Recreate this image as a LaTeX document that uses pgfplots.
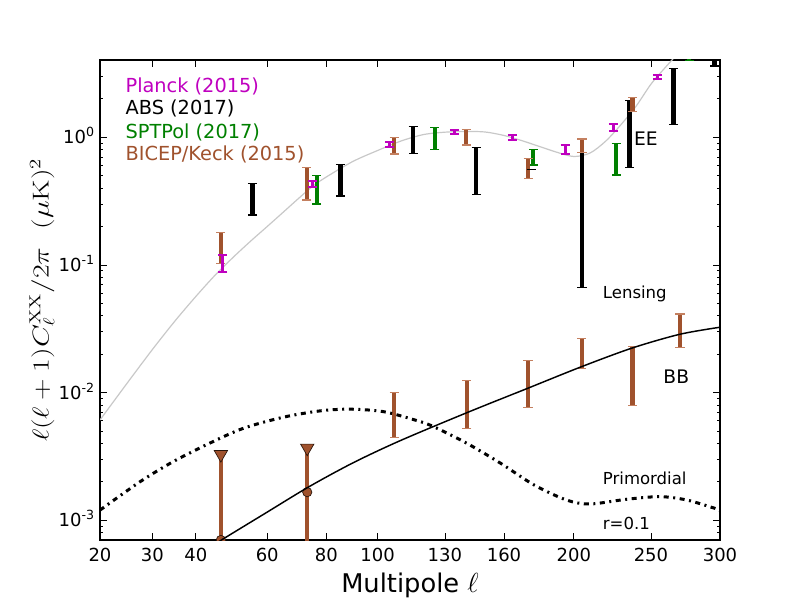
\documentclass[border=0pt]{standalone}
\usepackage[no-math]{fontspec}
\setmainfont{DejaVu Sans}
\usepackage{graphicx}
\usepackage{pgfplots}
\usepackage{pgfplotstable}
\pgfplotsset{compat=1.18}
\definecolor{mplm}{rgb}{0.75,0,0.75}
\definecolor{mplg}{rgb}{0,0.5,0}
\definecolor{sienna}{RGB}{160,82,45}
\definecolor{siennacap}{RGB}{196,128,96}
\definecolor{theorygrey}{RGB}{200,200,200}

% EE theory
\pgfplotstableread{
l v
20 0.0061
25 0.01201
30 0.02177
35 0.0364
40 0.05662
45 0.08343
50 0.1155
55 0.1541
60 0.2001
65 0.2576
70 0.3286
75 0.4118
80 0.4887
90 0.6461
100 0.788
110 0.9355
120 1.05
130 1.096
140 1.11
150 1.10
160 1.033
170 0.939
180 0.844
190 0.762
200 0.707
210 0.753
220 0.935
230 1.264
240 1.762
250 2.61
260 3.53
270 4.67
280 6.1
}\eetheory

% BB primordial r=0.1
\pgfplotstableread{
l v
20 0.00120
27.5 0.00201
34.6 0.00288
43.5 0.00401
52.9 0.00526
65.1 0.00641
77.8 0.00719
88.9 0.00741
102.4 0.00709
117 0.00603
124.6 0.00541
140.7 0.00401
158.1 0.00280
176.6 0.00189
195.6 0.00144
209.9 0.00134
233.6 0.00146
256.3 0.00153
275.3 0.00144
296 0.00124
300 0.00119
}\primordial

% BB lensing
\pgfplotstableread{
l v
45 0.00065
47 0.00071
59.4 0.001134
73.7 0.001824
90 0.00281
109.5 0.004195
140.7 0.00695
173.1 0.01081
204.8 0.01597
237.4 0.02237
270.4 0.02864
300 0.03249
}\lensing

% Planck EE (centre, half-width)
\pgfplotstableread{
l c e
47 0.10365 0.01605
75 0.43235 0.02235
105 0.879 0.035
134.6 1.095 0.039
164.6 0.9975 0.0505
194.7 0.807 0.063
224.8 1.192 0.072
254.4 2.961 0.115
}\planck

% ABS EE
\pgfplotstableread{
l c e
55.5 0.341 0.095
85.2 0.4805 0.1335
115.3 0.984 0.235
145.4 0.5965 0.2385
205 0.5184 0.4516
235.5 1.2585 0.6765
265.8 2.367 1.103
295.9 4.81 1.19
}\abs

\pgfplotstableread{
l c e
175 0.562 0.0005
}\abstiny

% SPTPol EE
\pgfplotstableread{
l c e
76.5 0.40 0.10
125.2 1.0015 0.1965
176.3 0.706 0.099
226.6 0.702 0.195
277.2 5.0 1.0
}\sptpol

% BICEP/Keck EE
\pgfplotstableread{
l c e
46.5 0.141 0.038
73 0.4525 0.1295
107 0.87 0.13
140.4 1.0085 0.1385
173.3 0.581 0.104
205 0.864 0.106
237.4 1.8135 0.2265
}\bkee

% BICEP/Keck BB
\pgfplotstableread{
l c e
107 0.007215 0.002775
140.7 0.00883 0.00357
173.2 0.01274 0.00506
204.8 0.021 0.0055
237.4 0.01543 0.00747
270.4 0.032 0.0093
}\bkbb

% BICEP/Keck BB upper-limit bars
\pgfplotstableread{
l c e
46.5 0.00169 0.00159
73.2 0.00189 0.00179
}\bkul

\pgfplotstableread{
l v
46.5 0.00328
73.2 0.00368
}\bktri

\pgfplotstableread{
l v
46.5 0.0007
73.2 0.00166
}\bkcirc

\begin{document}
\begin{tikzpicture}[x=1bp,y=1bp]
\useasboundingbox (0,0) rectangle (600,450);
\begin{axis}[
  at={(75bp,45bp)}, anchor=south west,
  width=465bp, height=360bp, scale only axis,
  xmin=20, xmax=300,
  ymode=log, ymin=7e-4, ymax=4.03,
  x coord trafo/.code={\pgfmathparse{(#1)^0.445}},
  x coord inv trafo/.code={\pgfmathparse{(#1)^2.247191}},
  xtick={20,30,40,60,80,100,130,160,200,250,300},
  xticklabels={20,30,40,60,80,100,130,160,200,250,300},
  ytick={0.001,0.01,0.1,1},
  yticklabels={10\smash{\textsuperscript{-3}},10\smash{\textsuperscript{-2}},10\smash{\textsuperscript{-1}},10\smash{\textsuperscript{0}}},
  minor ytick={0.0008,0.0009,0.002,0.003,0.004,0.005,0.006,0.007,0.008,0.009,0.02,0.03,0.04,0.05,0.06,0.07,0.08,0.09,0.2,0.3,0.4,0.5,0.6,0.7,0.8,0.9,2,3},
  tick align=inside,
  major tick length=5bp, minor tick length=2.5bp,
  every tick/.style={black, line width=0.6bp},
  axis line style={line width=0.8bp},
  xticklabel style={font=\fontsize{13.5bp}{16bp}\selectfont, inner sep=0pt, yshift=-6.2bp},
  yticklabel style={font=\fontsize{13.5bp}{16bp}\selectfont, inner sep=0pt, xshift=-3.75bp},
  clip marker paths=true,
]
% EE theory
\addplot[theorygrey, line width=0.9bp, smooth] table[x=l,y=v] {\eetheory};

% ABS
\addplot[draw=none, mark=none, error bars/.cd, y dir=both, y explicit,
  error bar style={draw=black, line width=3.4bp},
  error mark options={rotate=90, draw=black, line width=0.9bp, mark size=3.4bp}]
  table[x=l,y=c,y error=e] {\abs};
% SPTPol
\addplot[draw=none, mark=none, error bars/.cd, y dir=both, y explicit,
  error bar style={draw=mplg, line width=3bp},
  error mark options={rotate=90, draw=mplg, line width=0.9bp, mark size=3.4bp}]
  table[x=l,y=c,y error=e] {\sptpol};
% BICEP/Keck EE
\addplot[draw=none, mark=none, error bars/.cd, y dir=both, y explicit,
  error bar style={draw=sienna, line width=3.2bp},
  error mark options={rotate=90, draw=siennacap, line width=0.9bp, mark size=3.4bp}]
  table[x=l,y=c,y error=e] {\bkee};
\addplot[draw=none, mark=none, error bars/.cd, y dir=both, y explicit,
  error bar style={draw=black, line width=3.4bp},
  error mark options={rotate=90, draw=black, line width=0.9bp, mark size=3.4bp}]
  table[x=l,y=c,y error=e] {\abstiny};
% Planck
\addplot[draw=none, mark=none, error bars/.cd, y dir=both, y explicit,
  error bar style={draw=mplm, line width=2.2bp},
  error mark options={rotate=90, draw=mplm, line width=1.4bp, mark size=3.4bp}]
  table[x=l,y=c,y error=e] {\planck};

% BICEP/Keck BB
\addplot[draw=none, mark=none, error bars/.cd, y dir=both, y explicit,
  error bar style={draw=sienna, line width=3.2bp},
  error mark options={rotate=90, draw=siennacap, line width=0.9bp, mark size=3.4bp}]
  table[x=l,y=c,y error=e] {\bkbb};
\addplot[draw=none, mark=none, error bars/.cd, y dir=both, y explicit,
  error bar style={draw=sienna, line width=3.2bp},
  error mark=none]
  table[x=l,y=c,y error=e] {\bkul};
\addplot[only marks, mark=triangle*, mark size=5.8bp,
  mark options={rotate=180, fill=sienna, draw=black!75!sienna, line width=0.5bp}]
  table[x=l,y=v] {\bktri};
\addplot[only marks, mark=*, mark size=3.5bp,
  mark options={fill=sienna, draw=black!75!sienna, line width=0.5bp}]
  table[x=l,y=v] {\bkcirc};

% BB theory
\addplot[black, line width=1.1bp, smooth] table[x=l,y=v] {\lensing};
\addplot[black, line width=2.25bp, smooth,
  dash pattern=on 3.75bp off 3.4bp on 1.5bp off 3.4bp] table[x=l,y=v] {\primordial};
\end{axis}

% legend
\begin{scope}[every node/.style={anchor=base west, inner sep=0pt, font=\fontsize{14.5bp}{17bp}\selectfont}]
\node[text=mplm] at (94,380.8) {Planck (2015)};
\node[text=black] at (94,363.75) {ABS (2017)};
\node[text=mplg] at (94,346.3) {SPTPol (2017)};
\node[text=sienna] at (94,329.25) {BICEP/Keck (2015)};
\end{scope}

% annotations
\node[anchor=base west, inner sep=0pt, font=\fontsize{14bp}{17bp}\selectfont] at (475.4,340.7) {EE};
\node[anchor=base west, inner sep=0pt, font=\fontsize{14bp}{17bp}\selectfont] at (497.4,162.5) {BB};
\node[anchor=base west, inner sep=0pt, font=\fontsize{12.4bp}{15bp}\selectfont] at (452,225.75) {Lensing};
\node[anchor=base west, inner sep=0pt, font=\fontsize{12.4bp}{15bp}\selectfont] at (452,86.8) {Primordial};
\node[anchor=base west, inner sep=0pt, font=\fontsize{12.4bp}{15bp}\selectfont] at (452,53) {r=0.1};

% axis labels
\node[anchor=base, inner sep=0pt, font=\fontsize{19.3bp}{23bp}\selectfont] at (307.5,5.25) {Multipole $\ell$};
\node[rotate=90, inner sep=0pt, font=\fontsize{16.5bp}{20bp}\selectfont] at (31.5,225)
  {\scalebox{1.3}[1]{$\ell(\ell+1)C_\ell^{\mathrm{XX}}/2\pi\ \ (\mu\mathrm{K})^2$}};
\end{tikzpicture}
\end{document}
